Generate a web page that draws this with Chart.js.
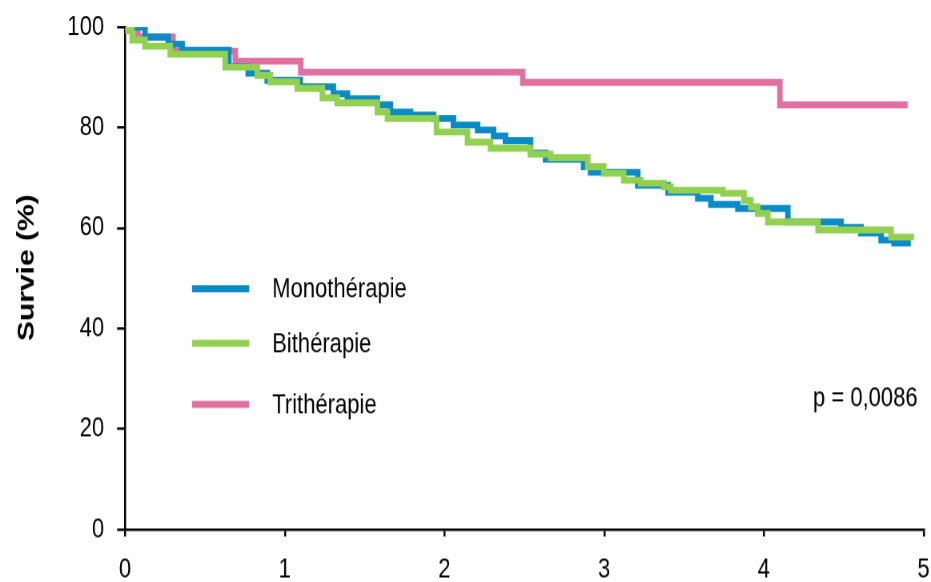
<!DOCTYPE html>
<html lang="fr">

<head>
    <meta charset="UTF-8" />
    <title>Survie selon le traitement</title>
    <script src="https://cdn.jsdelivr.net/npm/chart.js"></script>
    <style>
        html { overflow: hidden; }
        body { margin: 0; padding: 0; background: #fff; height: 582px; }
        /* the original figure is stretched vertically, so draw flat and stretch */
        #boite { width: 931px; height: 466px; transform: scaleY(1.25); transform-origin: 0 0; }
    </style>
</head>

<body>
    <div id="boite"><canvas id="grafica"></canvas></div>

    <script>
        // temps (années) et survie (%) a chaque marche
        const monoT = [0, 0.125, 0.27, 0.357, 0.65, 0.771, 0.89, 1.097, 1.304, 1.392, 1.58, 1.661, 1.787, 1.931,
            2.056, 2.207, 2.307, 2.382, 2.539, 2.633, 2.871, 2.915, 3.21, 3.40, 3.586, 3.668, 3.837, 4.15,
            4.483, 4.608, 4.734, 4.815, 4.92];
        const monoS = [100, 98, 96.6, 95.4, 92.1, 90.8, 89.4, 88.1, 86.7, 85.7, 84.5, 83.1, 82.5, 81.8,
            80.5, 79.5, 78.3, 77.4, 74.9, 73.7, 72.2, 71.1, 68.5, 67.1, 65.9, 64.7, 63.9, 61.2,
            60.1, 59.0, 57.6, 57.0, 57.0];

        const biT = [0, 0.044, 0.125, 0.282, 0.627, 0.828, 0.909, 1.078, 1.235, 1.329, 1.58, 1.643, 1.95,
            2.144, 2.288, 2.539, 2.665, 2.897, 2.997, 3.122, 3.229, 3.373, 3.417, 3.743, 3.875, 3.918,
            3.962, 4.025, 4.339, 4.796, 4.94];
        const biS = [99.3, 97.4, 96.2, 94.6, 92.0, 90.4, 89.1, 87.8, 85.9, 84.9, 83.1, 81.8, 79.1,
            77.1, 75.9, 74.7, 74.0, 72.2, 70.9, 69.5, 68.9, 68.2, 67.5, 66.9, 65.5, 64.2,
            62.9, 61.2, 59.6, 58.2, 58.2];

        const triT = [0, 0.08, 0.3, 0.69, 1.1, 2.49, 4.1, 4.9];
        const triS = [100, 98, 95.2, 93.2, 91, 89, 84.5, 84.5];

        const etiquettes = ["Monothérapie", "Bithérapie", "Trithérapie"];
        const couleurs = ["#0a8bc6", "#92d050", "#e0709f"];
        const texteP = "p = 0,0086";
        const titreY = "Survie (%)";

        const xTicks = [0, 1, 2, 3, 4, 5];
        const yTicks = [0, 20, 40, 60, 80, 100];

        const police = "'Liberation Sans', Arial, sans-serif";

        function points(t, s) {
            return t.map((v, i) => ({ x: v, y: s[i] }));
        }

        // légende, titre de l'axe y et valeur p, dessinés dans le graphique
        const legendePlugin = {
            id: "legendeMaison",
            afterDraw(chart) {
                const ctx = chart.ctx;
                const ys = [230.8, 274.4, 323.2];
                ctx.save();
                ctx.font = "22px " + police;
                ctx.fillStyle = "#000";
                ctx.textBaseline = "middle";
                etiquettes.forEach((lab, i) => {
                    ctx.strokeStyle = couleurs[i];
                    ctx.lineWidth = 5.6;
                    ctx.beginPath();
                    ctx.moveTo(192, ys[i]);
                    ctx.lineTo(249, ys[i]);
                    ctx.stroke();
                    ctx.fillText(lab, 272, ys[i] + 1);
                });
                ctx.textAlign = "right";
                ctx.fillText(texteP, 917, 319);

                // titre vertical
                ctx.translate(27, 214);
                ctx.rotate(-Math.PI / 2);
                ctx.textAlign = "center";
                ctx.font = "bold 24px " + police;
                ctx.fillText(titreY, 0, 0);
                ctx.restore();
            }
        };

        const datasets = [
            { label: etiquettes[0], data: points(monoT, monoS), borderColor: couleurs[0], order: 1 },
            { label: etiquettes[1], data: points(biT, biS), borderColor: couleurs[1], order: 0 },
            { label: etiquettes[2], data: points(triT, triS), borderColor: couleurs[2], order: 2 }
        ].map(d => Object.assign(d, { stepped: "before", borderWidth: 5.5, pointRadius: 0, fill: false, tension: 0 }));

        new Chart(document.getElementById("grafica"), {
            type: "line",
            data: { datasets },
            options: {
                responsive: true,
                maintainAspectRatio: false,
                animation: false,
                devicePixelRatio: 1.25,
                layout: { padding: { top: 21.6, right: 8, left: 0, bottom: 0 } },
                plugins: { legend: { display: false }, tooltip: { enabled: false } },
                scales: {
                    x: {
                        type: "linear", min: 0, max: 5,
                        afterBuildTicks: s => { s.ticks = xTicks.map(v => ({ value: v })); },
                        ticks: { color: "#000", font: { family: police, size: 22 }, padding: 13.5 },
                        grid: { drawOnChartArea: false, drawTicks: true, tickLength: 5.6, color: "#000", lineWidth: 2 },
                        border: { display: true, color: "#000", width: 2 },
                        afterFit: s => { s.height = 42.8; s.paddingLeft = 0; s.paddingRight = 0; }
                    },
                    y: {
                        min: 0, max: 100,
                        afterBuildTicks: s => { s.ticks = yTicks.map(v => ({ value: v })); },
                        ticks: { color: "#000", font: { family: police, size: 22 }, padding: 13 },
                        grid: { drawOnChartArea: false, drawTicks: true, tickLength: 8, color: "#000", lineWidth: 2 },
                        border: { display: true, color: "#000", width: 2 },
                        afterFit: s => { s.width = 125; s.paddingTop = 0; s.paddingBottom = 0; }
                    }
                }
            },
            plugins: [legendePlugin]
        });
    </script>
</body>

</html>
